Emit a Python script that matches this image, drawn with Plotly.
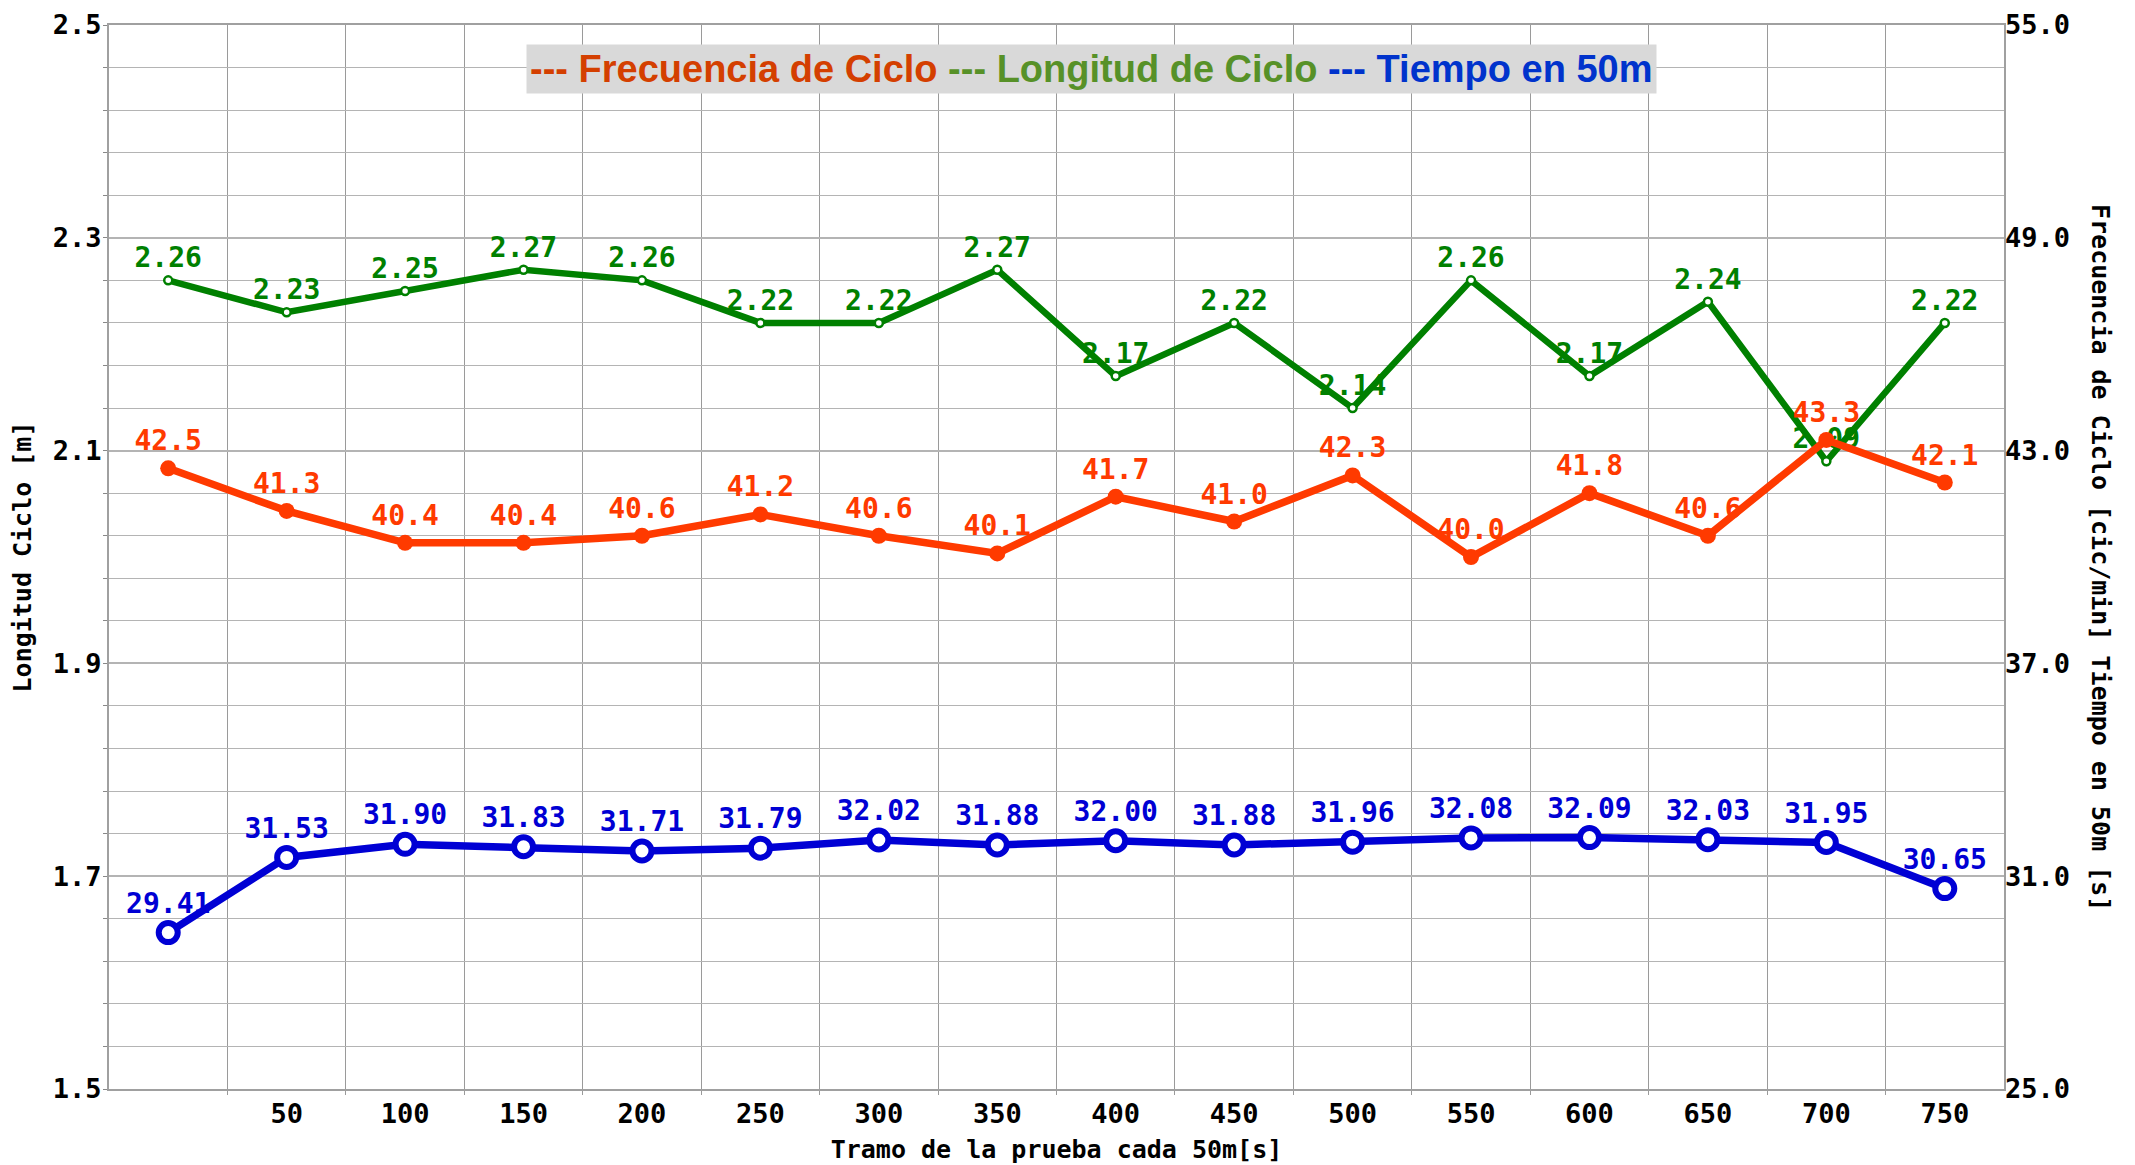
import plotly.graph_objects as go

tramos = [0, 50, 100, 150, 200, 250, 300, 350, 400, 450, 500, 550, 600, 650, 700, 750]
tick_labels = ["50", "100", "150", "200", "250", "300", "350", "400", "450", "500",
               "550", "600", "650", "700", "750"]
longitud = [2.26, 2.23, 2.25, 2.27, 2.26, 2.22, 2.22, 2.27, 2.17, 2.22, 2.14, 2.26, 2.17, 2.24, 2.09, 2.22]
frecuencia = [42.5, 41.3, 40.4, 40.4, 40.6, 41.2, 40.6, 40.1, 41.7, 41.0, 42.3, 40.0, 41.8, 40.6, 43.3, 42.1]
tiempo = [29.41, 31.53, 31.90, 31.83, 31.71, 31.79, 32.02, 31.88, 32.00, 31.88, 31.96, 32.08, 32.09, 32.03, 31.95, 30.65]

MONO = "DejaVu Sans Mono"
GREEN = "#008000"
RED = "#ff3a00"
BLUE = "#0000d4"
LBL = 28

fig = go.Figure()

fig.add_trace(go.Scatter(
    x=tramos, y=longitud, mode="lines+markers+text", yaxis="y",
    line=dict(color=GREEN, width=6.5),
    marker=dict(size=8, color="white", line=dict(color=GREEN, width=2.5)),
    texttemplate="%{y:.2f}", textposition="top center",
    textfont=dict(family=MONO, size=LBL, color=GREEN, weight="bold"),
    showlegend=False, cliponaxis=False))

fig.add_trace(go.Scatter(
    x=tramos, y=frecuencia, mode="lines+markers+text", yaxis="y2",
    line=dict(color=RED, width=7.5),
    marker=dict(size=16, color=RED),
    texttemplate="%{y:.1f}", textposition="top center",
    textfont=dict(family=MONO, size=LBL, color=RED, weight="bold"),
    showlegend=False, cliponaxis=False))

fig.add_trace(go.Scatter(
    x=tramos, y=tiempo, mode="lines+markers+text", yaxis="y2",
    line=dict(color=BLUE, width=7.5),
    marker=dict(size=19, color="white", line=dict(color=BLUE, width=6)),
    texttemplate="%{y:.2f}", textposition="top center",
    textfont=dict(family=MONO, size=LBL, color=BLUE, weight="bold"),
    showlegend=False, cliponaxis=False))

minor_y = [round(1.5 + 0.04 * i, 2) for i in range(26)]
minor_x = [25 + 50 * i for i in range(15)]

fig.update_layout(
    width=2135, height=1165,
    margin=dict(l=101, r=139, t=17, b=84),
    plot_bgcolor="white", paper_bgcolor="white",
    xaxis=dict(
        range=[-25, 775], tickvals=tramos[1:], ticktext=tick_labels,
        showgrid=False, zeroline=False, automargin=False,
        showline=True, linecolor="#a0a0a0", linewidth=2, mirror=True,
        ticks="", tickfont=dict(family=MONO, size=27, color="black", weight="bold"),
        minor=dict(tickvals=minor_x, showgrid=True, gridcolor="#9a9a9a", gridwidth=1.2,
                   ticks="outside", ticklen=4, tickcolor="#9a9a9a"),
        title=dict(text="Tramo de la prueba cada 50m[s]",
                   font=dict(family=MONO, size=25, color="black", weight="bold"), standoff=12),
    ),
    yaxis=dict(
        range=[1.5, 2.5], tickvals=[1.5, 1.7, 1.9, 2.1, 2.3, 2.5], tickformat=".1f",
        showgrid=True, gridcolor="#b4b4b4", gridwidth=2, zeroline=False, automargin=False,
        showline=True, linecolor="#a0a0a0", linewidth=2, mirror=True,
        ticks="", tickfont=dict(family=MONO, size=27, color="black", weight="bold"),
        minor=dict(tickvals=minor_y, showgrid=True, gridcolor="#b4b4b4", gridwidth=1.2,
                   ticks="outside", ticklen=4, tickcolor="#888888"),
        title=dict(text="Longitud Ciclo [m]",
                   font=dict(family=MONO, size=25, color="black", weight="bold"), standoff=14),
    ),
    yaxis2=dict(
        range=[25, 55], tickvals=[25, 31, 37, 43, 49, 55], tickformat=".1f",
        overlaying="y", side="right", showgrid=False, zeroline=False, automargin=False,
        ticks="", tickfont=dict(family=MONO, size=27, color="black", weight="bold"),
    ),
    annotations=[
        dict(text="Frecuencia de Ciclo [cic/min] Tiempo en 50m [s]",
             xref="paper", yref="paper", x=1.0512, y=0.5, textangle=90,
             showarrow=False, xanchor="center", yanchor="middle",
             font=dict(family=MONO, size=25, color="black", weight="bold")),
        dict(text="<span style='color:#d43f00'>--- Frecuencia de Ciclo</span> "
                  "<span style='color:#579128'>--- Longitud de Ciclo</span> "
                  "<span style='color:#0033cc'>--- Tiempo en 50m</span>",
             xref="paper", yref="paper", x=0.5187, y=0.9585, xanchor="center", yanchor="middle",
             showarrow=False, bgcolor="#d9d9d9", borderpad=3,
             font=dict(family="Liberation Sans", size=38, weight="bold")),
    ],
)

fig.write_html("out.html")
